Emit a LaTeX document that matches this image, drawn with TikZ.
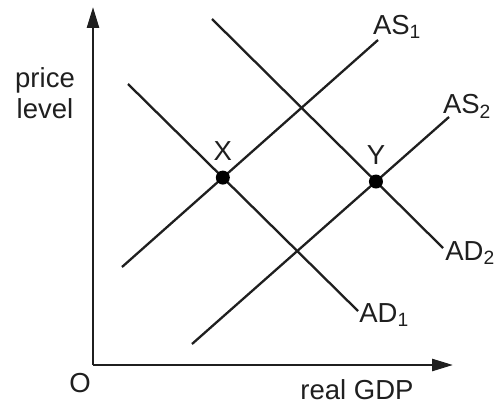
\documentclass[tikz,border=0pt]{standalone}
\usepackage{fontspec}
\setmainfont{Liberation Sans}
\usetikzlibrary{arrows.meta,positioning}
\tikzset{
  axis/.style = {line width=2.6pt, -{Triangle[length=21pt,width=12pt]}},
  curve/.style = {line width=2.3pt},
  lbl/.style = {font=\fontsize{27.5}{31}\selectfont, inner sep=0pt, align=center},
  dot/.style = {circle, fill=black, minimum size=14pt, inner sep=0pt}
}

\begin{document}
\begin{tikzpicture}[x=1pt, y=1pt, color={black!88}]
            \useasboundingbox (0,0) rectangle (497,405);
            % axes
            \coordinate (o) at (93,40);
            \coordinate (ytop) at (93,398);
            \coordinate (xend) at (453,40);
            \draw[axis] (o) -- (ytop);
            \draw[axis] (o) -- (xend);
            % demand and supply curves
            \coordinate (ad1a) at (128,321);
            \coordinate (ad1b) at (358,94);
            \coordinate (ad2a) at (212,386);
            \coordinate (ad2b) at (443,157);
            \coordinate (as1a) at (122,138);
            \coordinate (as1b) at (378,365);
            \coordinate (as2a) at (192,61);
            \coordinate (as2b) at (449,288);
            \draw[curve] (ad1a) -- (ad1b);
            \draw[curve] (ad2a) -- (ad2b);
            \draw[curve] (as1a) -- (as1b);
            \draw[curve] (as2a) -- (as2b);
            \node[dot] (x) at (intersection of ad1a--ad1b and as1a--as1b) {};
            \node[dot] (y) at (intersection of ad2a--ad2b and as2a--as2b) {};
            % labels
            \node[lbl, above=10pt of x] (xl) {X};
            \node[lbl, above=10pt of y] (yl) {Y};
            \node[lbl] (as1l) at (397,378) {AS\textsubscript{1}};
            \node[lbl] (as2l) at (467,299) {AS\textsubscript{2}};
            \node[lbl] (ad2l) at (470,152) {AD\textsubscript{2}};
            \node[lbl] (ad1l) at (384,90) {AD\textsubscript{1}};
            \node[lbl] (plevel) at (45,312) {price\\level};
            \node[lbl] (ol) at (80,22) {O};
            \node[lbl] (gdp) at (357,15) {real GDP};
        \end{tikzpicture}
\end{document}
